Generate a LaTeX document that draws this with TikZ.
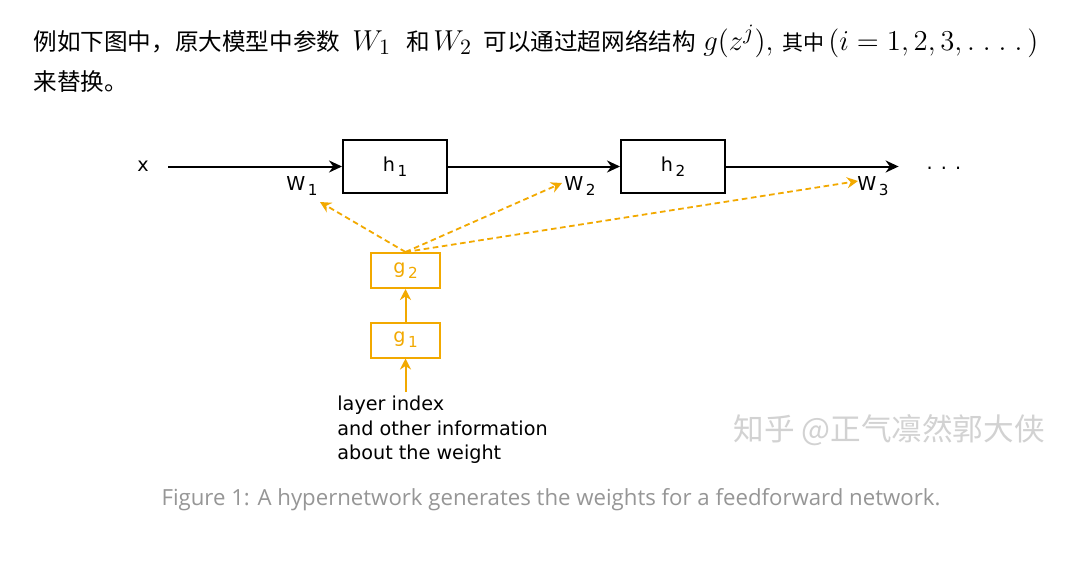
\documentclass[tikz,border=0pt]{standalone}
\usepackage{fontspec}
\usepackage{amsmath}
\usepackage{tikz}
\usetikzlibrary{arrows.meta, positioning, calc}
\newfontfamily\cjk{Noto Sans CJK SC}
\newfontfamily\diafont{DejaVu Sans}
\newfontfamily\capfont{Open Sans}
\definecolor{hyperorange}{RGB}{242,169,0}
\definecolor{capgray}{RGB}{150,150,150}
\definecolor{markgray}{RGB}{210,210,210}
\newcommand{\dsub}[1]{\kern1.3pt\raisebox{-2.6pt}{\fontsize{7.6}{8}\selectfont #1}}

\begin{document}
\begin{tikzpicture}[x=0.5pt, y=-0.5pt,
  cjkt/.style={font=\cjk\fontsize{11.8}{14}\selectfont, inner sep=0pt, anchor=base west},
  mathhd/.style={font=\fontsize{15}{17}\selectfont, inner sep=0pt, anchor=base west},
  lbl/.style={font=\diafont\fontsize{9.6}{12.25}\selectfont, inner sep=0pt},
  hbox/.style={lbl, draw, line width=1pt, minimum width=52pt, minimum height=26.5pt},
  gbox/.style={lbl, draw=hyperorange, text=hyperorange, line width=1pt, minimum width=34.5pt, minimum height=17.5pt},
  arr/.style={-{Stealth[length=6.5pt, width=6pt]}, line width=1pt},
  oarr/.style={-{Stealth[length=5.5pt, width=5.5pt]}, hyperorange, line width=1pt},
  darr/.style={oarr, line width=0.9pt, dash pattern=on 2.8pt off 1.8pt}
]
  % Page area
  \fill[white] (0,0) rectangle (1086,568);
  \path[use as bounding box] (0,0) rectangle (1086,568);

  % Header text
  \node[cjkt] (txta) at (33,50) {例如下图中，原大模型中参数};
  \node[mathhd] (mwone) at (352,50) {$W_1$};
  \node[cjkt] (txtb) at (406,50) {和};
  \node[mathhd] (mwtwo) at (433,50) {$W_2$};
  \node[cjkt] (txtc) at (483,50) {可以通过超网络结构};
  \node[mathhd] (mg) at (703,50) {$g(z^j),$};
  \node[cjkt, font=\cjk\fontsize{10.5}{12}\selectfont] (txtd) at (782,50) {其中};
  \node[mathhd] (mrange) at (828,50) {$(i=1,2,3,\ldotp\mkern2mu\ldotp\mkern2mu\ldotp\mkern2mu\ldotp)$};
  \node[cjkt] (txte) at (33,90) {来替换。};

  % Main network
  \node[lbl, minimum width=25pt] (xin) at (143,166.5) {x};
  \node[hbox] (hone) at (395,166.5) {h\dsub{1}};
  \node[hbox] (htwo) at (673,166.5) {h\dsub{2}};
  \node[lbl, minimum width=45pt] (more) at (944,168) {. . .};
  \draw[arr] (xin) -- (hone);
  \draw[arr] (hone) -- (htwo);
  \draw[arr] (htwo) -- (htwo -| more.west);

  % Weight labels
  \node[lbl] (wone) at (302,186) {W\dsub{1}};
  \node[lbl] (wtwo) at (580,186) {W\dsub{2}};
  \node[lbl] (wthree) at (873,186) {W\dsub{3}};

  % Hypernetwork
  \node[gbox] (gone) at (405.5,340) {g\dsub{1}};
  \node[gbox] (gtwo) at (405.5,270.5) {g\dsub{2}};
  \node[lbl, align=left, anchor=north west] (info) at (337,396)
    {layer index\\and other information\\about the weight};
  \coordinate (infotop) at ([yshift=2pt]info.north);
  \draw[oarr] (infotop -| gone) -- (gone);
  \draw[oarr] (gone) -- (gtwo);

  % Generated weights
  \coordinate (tipone) at (320,202);
  \coordinate (tiptwo) at (562,183);
  \coordinate (tipthree) at (858,181);
  \foreach \t in {tipone, tiptwo, tipthree}
    \draw[darr] (gtwo.north) -- (\t);

  % Watermark and caption
  \node[font=\cjk\fontsize{15.3}{17}\selectfont, text=markgray, inner sep=0pt, anchor=west] (mark) at (733,430) {知乎 @正气凛然郭大侠};
  \node[font=\capfont\fontsize{11.1}{13}\selectfont, text=capgray, inner sep=0pt] (caption) at (551,500)
    {Figure 1: A hypernetwork generates the weights for a feedforward network.};
\end{tikzpicture}
\end{document}
